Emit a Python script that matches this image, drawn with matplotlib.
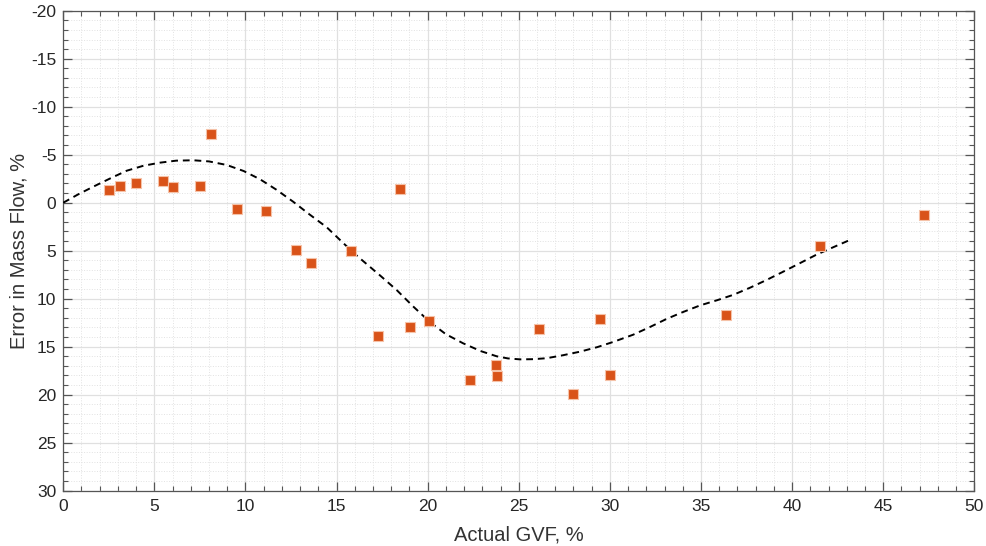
import numpy as np
import matplotlib.pyplot as plt
from matplotlib.ticker import MultipleLocator

# measured points: actual GVF (%) vs error in mass flow (%)
gvf = [2.5, 3.1, 4.0, 5.5, 6.0, 7.5, 8.1, 9.55, 11.1, 12.8, 13.6, 15.8,
       18.5, 17.3, 19.05, 20.05, 22.3, 23.75, 23.8, 26.1, 28.0, 29.45,
       30.0, 36.35, 41.55, 47.25]
error = [-1.3, -1.7, -2.0, -2.25, -1.6, -1.7, -7.15, 0.67, 0.9, 4.95, 6.3, 5.05,
         -1.42, 13.9, 12.95, 12.35, 18.5, 16.9, 18.05, 13.2, 19.95, 12.1,
         17.95, 11.7, 4.5, 1.27]

# trend line
trend_x = [0, 0.8, 1.65, 2.6, 3.48, 4.4, 5.31, 6.2, 7.14, 8.0, 8.97, 9.9, 10.8,
           11.7, 12.62, 13.5, 14.46, 15.2, 15.92, 16.47, 17.4, 18.3, 19.2,
           20.13, 21.0, 21.95, 22.9, 23.79, 24.4, 25.07, 25.8, 26.53, 27.4,
           28.36, 29.3, 30.19, 31.28, 32.2, 33.12, 34.0, 34.95, 35.9, 36.77,
           37.7, 38.6, 39.5, 40.43, 41.3, 42.26, 43.08]
trend_y = [0, -0.85, -1.67, -2.55, -3.33, -3.85, -4.17, -4.38, -4.42, -4.3, -3.93,
           -3.3, -2.44, -1.35, -0.1, 1.2, 2.56, 3.9, 5.2, 6.1, 7.6, 9.1, 10.8,
           12.45, 13.7, 14.65, 15.45, 16.0, 16.22, 16.32, 16.3, 16.2, 15.9,
           15.52, 15.05, 14.5, 13.75, 12.95, 12.1, 11.4, 10.7, 10.15, 9.6,
           8.85, 8.05, 7.2, 6.3, 5.45, 4.64, 3.96]

plt.rcParams['font.family'] = ['Liberation Sans', 'DejaVu Sans']
plt.rcParams['axes.unicode_minus'] = False

fig = plt.figure(figsize=(9.87, 5.46), dpi=100)
ax = fig.add_axes([0.0641, 0.1013, 0.9230, 0.8791])

ax.plot(trend_x, trend_y, color='black', linestyle=(0, (3.5, 2.5)), linewidth=1.4, zorder=3)
ax.plot(gvf, error, linestyle='none', marker='s', markersize=6.8,
        markerfacecolor='#D95319', markeredgecolor='#F5C2A8', markeredgewidth=0.8, zorder=4)

ax.set_xlim(0, 50)
ax.set_ylim(30, -20)
ax.xaxis.set_major_locator(MultipleLocator(5))
ax.xaxis.set_minor_locator(MultipleLocator(1))
ax.yaxis.set_major_locator(MultipleLocator(5))
ax.yaxis.set_minor_locator(MultipleLocator(1))

ax.grid(which='major', color='#e0e0e0', linewidth=0.9, linestyle='-')
ax.grid(which='minor', color='#e2e2e2', linewidth=0.7, linestyle=':')
ax.set_axisbelow(True)

ax.tick_params(which='both', direction='in', top=True, right=True, colors='#555555',
               labelcolor='#262626', labelsize=12.5)
ax.tick_params(which='major', length=6.5, width=0.9)
ax.tick_params(which='minor', length=3.5, width=0.8)
ax.tick_params(axis='x', which='major', pad=6)
ax.tick_params(axis='y', which='major', pad=5)
for s in ax.spines.values():
    s.set_color('#555555')
    s.set_linewidth(0.9)

ax.set_xlabel('Actual GVF, %', fontsize=14.5, color='#333333', labelpad=8)
ax.set_ylabel('Error in Mass Flow, %', fontsize=14.5, color='#333333', labelpad=2)

fig.savefig('out.png', dpi=100)
